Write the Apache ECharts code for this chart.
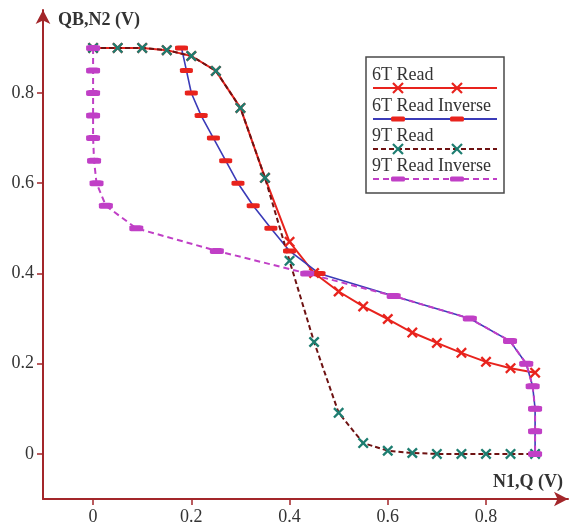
<!DOCTYPE html>
<html>
<head>
<meta charset="utf-8">
<script src="https://cdn.jsdelivr.net/npm/echarts@6.0.0/dist/echarts.min.js"></script>
<style>
  html, body { margin: 0; padding: 0; background: #fff; }
  #chart { width: 576px; height: 529px; }
</style>
</head>
<body>
<div id="chart"></div>
<script>
// 数据
var read6TX = [0, 0.05, 0.1, 0.15, 0.2, 0.25, 0.3, 0.35, 0.4, 0.45, 0.5, 0.55, 0.6, 0.65, 0.7, 0.75, 0.8, 0.85, 0.9];
var read6TY = [0.9, 0.9, 0.9, 0.895, 0.882, 0.849, 0.767, 0.612, 0.47, 0.401, 0.36, 0.327, 0.299, 0.269, 0.246, 0.224, 0.204, 0.19, 0.18];

var inv6TX = [0.18, 0.19, 0.2, 0.22, 0.245, 0.27, 0.295, 0.326, 0.362, 0.4, 0.46, 0.612, 0.767, 0.849, 0.882, 0.895, 0.9, 0.9, 0.9];
var inv6TY = [0.9, 0.85, 0.8, 0.75, 0.7, 0.65, 0.6, 0.55, 0.5, 0.45, 0.4, 0.35, 0.3, 0.25, 0.2, 0.15, 0.1, 0.05, 0];

var read9TX = [0, 0.05, 0.1, 0.15, 0.2, 0.25, 0.3, 0.35, 0.4, 0.45, 0.5, 0.55, 0.6, 0.65, 0.7, 0.75, 0.8, 0.85, 0.9];
var read9TY = [0.9, 0.9, 0.9, 0.895, 0.882, 0.849, 0.767, 0.612, 0.428, 0.248, 0.091, 0.024, 0.007, 0.002, 0, 0, 0, 0, 0];

var inv9TX = [0, 0, 0, 0, 0, 0.002, 0.007, 0.026, 0.088, 0.252, 0.436, 0.612, 0.767, 0.849, 0.882, 0.895, 0.9, 0.9, 0.9];
var inv9TY = [0.9, 0.85, 0.8, 0.75, 0.7, 0.65, 0.6, 0.55, 0.5, 0.45, 0.4, 0.35, 0.3, 0.25, 0.2, 0.15, 0.1, 0.05, 0];

var xTicks = [0, 0.2, 0.4, 0.6, 0.8];
var yTicks = [0, 0.2, 0.4, 0.6, 0.8];
var seriesNames = ['6T Read', '6T Read Inverse', '9T Read', '9T Read Inverse'];

// 样式
var axisColor = '#a3262a';
var red = '#e8231d', blue = '#3b3bb8', darkRed = '#6e1212', teal = '#1d7d70', magenta = '#c03fc6';
var crossPath = 'path://M1.5,0 L5,3.5 L8.5,0 L10,1.5 L6.5,5 L10,8.5 L8.5,10 L5,6.5 L1.5,10 L0,8.5 L3.5,5 L0,1.5 Z';
var serif = 'Liberation Serif';

function zip(xs, ys) {
    return xs.map(function(x, i) { return [x, ys[i]]; });
}

// 图例（手工绘制：文字在线上方）
function legendGraphic() {
    var els = [{
        type: 'rect',
        shape: { x: 366, y: 57, width: 138, height: 136 },
        style: { fill: '#fff', stroke: '#4a4a4a', lineWidth: 1.5 }
    }];
    var rows = [
        { y: 75, color: red, dash: null, mark: 'x', markColor: red },
        { y: 106, color: blue, dash: null, mark: 'bar', markColor: red },
        { y: 136, color: darkRed, dash: [5, 3], mark: 'x', markColor: teal },
        { y: 166, color: magenta, dash: [6, 4], mark: 'bar', markColor: magenta }
    ];
    rows.forEach(function(r, i) {
        var ly = r.y + 13;
        els.push({
            type: 'text', x: 372, y: r.y,
            style: { text: seriesNames[i], font: '18px "' + serif + '"', fill: '#333', verticalAlign: 'middle' }
        });
        els.push({
            type: 'line', shape: { x1: 373, y1: ly, x2: 497, y2: ly },
            style: { stroke: r.color, lineWidth: 2, lineDash: r.dash }
        });
        [398, 457].forEach(function(mx) {
            if (r.mark === 'x') {
                els.push({ type: 'line', shape: { x1: mx - 5, y1: ly - 5, x2: mx + 5, y2: ly + 5 }, style: { stroke: r.markColor, lineWidth: 2.2 } });
                els.push({ type: 'line', shape: { x1: mx - 5, y1: ly + 5, x2: mx + 5, y2: ly - 5 }, style: { stroke: r.markColor, lineWidth: 2.2 } });
            } else {
                els.push({ type: 'rect', shape: { x: mx - 7, y: ly - 2.5, width: 14, height: 5, r: 1.5 }, style: { fill: r.markColor } });
            }
        });
    });
    return els;
}

var chart = echarts.init(document.getElementById('chart'));

var option = {
    animation: false,
    backgroundColor: '#fff',
    grid: { left: 43, right: 8, top: 10, bottom: 30, outerBoundsMode: 'none' },
    xAxis: {
        type: 'value',
        min: -0.102,
        max: 0.967,
        name: 'N1,Q (V)',
        nameLocation: 'end',
        nameGap: -75,
        nameTextStyle: { fontFamily: serif, fontWeight: 'bold', fontSize: 18, color: '#333', align: 'left', verticalAlign: 'bottom', padding: [0, 0, 8, 0] },
        axisLine: { onZero: false, lineStyle: { color: axisColor, width: 2 }, symbol: ['none', 'arrow'], symbolSize: [11, 14] },
        axisTick: { show: true, length: 6, customValues: xTicks, lineStyle: { color: axisColor, width: 1.5 } },
        axisLabel: { customValues: xTicks, fontFamily: serif, fontSize: 18, color: '#333', margin: 9 },
        splitLine: { show: false }
    },
    yAxis: {
        type: 'value',
        min: -0.1,
        max: 0.984,
        name: 'QB,N2 (V)',
        nameLocation: 'end',
        nameGap: -10,
        nameTextStyle: { fontFamily: serif, fontWeight: 'bold', fontSize: 18, color: '#333', align: 'left', verticalAlign: 'middle', padding: [0, 0, 0, 15] },
        axisLine: { onZero: false, lineStyle: { color: axisColor, width: 2 }, symbol: ['none', 'arrow'], symbolSize: [11, 14] },
        axisTick: { show: true, length: 6, customValues: yTicks, lineStyle: { color: axisColor, width: 1.5 } },
        axisLabel: { customValues: yTicks, fontFamily: serif, fontSize: 18, color: '#333', margin: 9 },
        splitLine: { show: false }
    },
    series: [{
        name: seriesNames[0],
        type: 'line',
        data: zip(read6TX, read6TY),
        lineStyle: { color: red, width: 2 },
        symbol: crossPath,
        symbolSize: 11,
        itemStyle: { color: red }
    }, {
        name: seriesNames[1],
        type: 'line',
        data: zip(inv6TX, inv6TY),
        lineStyle: { color: blue, width: 1.6 },
        symbol: 'roundRect',
        symbolSize: [13, 5],
        itemStyle: { color: red }
    }, {
        name: seriesNames[2],
        type: 'line',
        data: zip(read9TX, read9TY),
        lineStyle: { color: darkRed, width: 2, type: [5, 3] },
        symbol: crossPath,
        symbolSize: 11,
        itemStyle: { color: teal }
    }, {
        name: seriesNames[3],
        type: 'line',
        data: zip(inv9TX, inv9TY),
        lineStyle: { color: magenta, width: 2, type: [6, 4] },
        symbol: 'roundRect',
        symbolSize: [14, 6],
        itemStyle: { color: magenta }
    }],
    graphic: legendGraphic()
};

chart.setOption(option);
</script>
</body>
</html>
